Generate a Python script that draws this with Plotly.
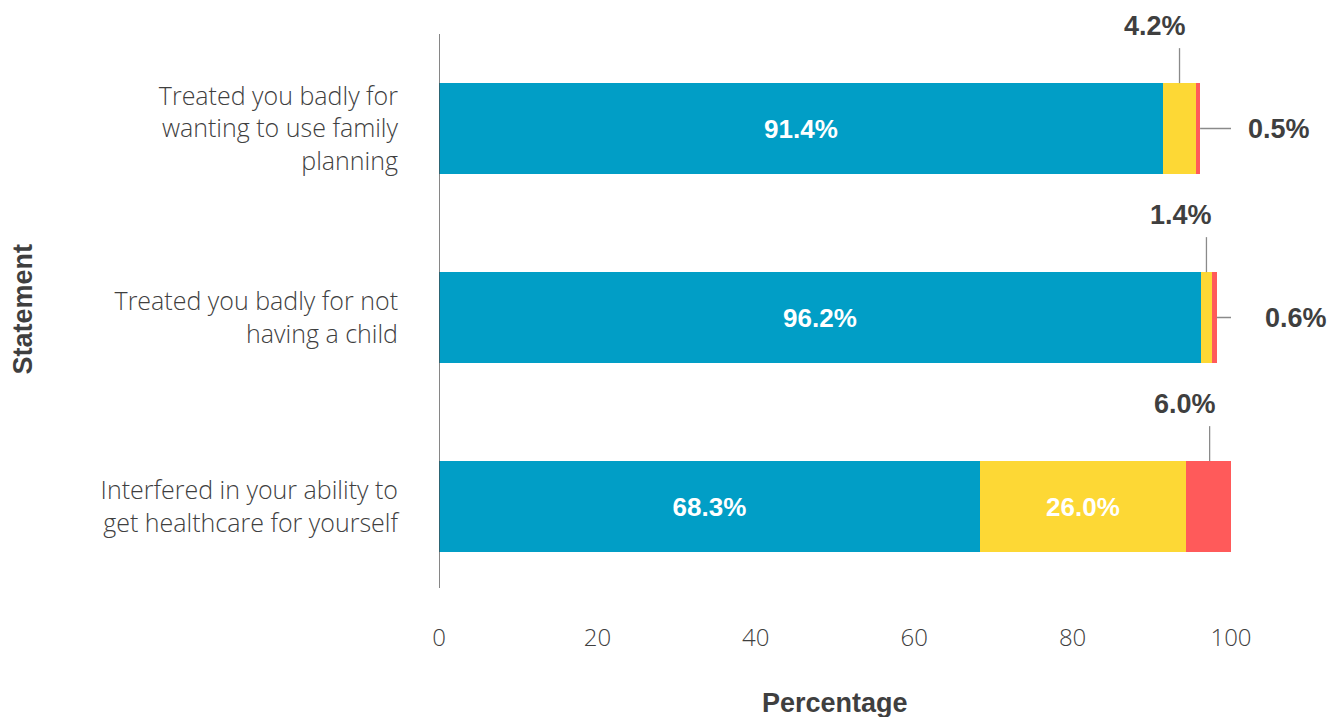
import plotly.graph_objects as go

# Survey statements, listed top to bottom
statements = [
    "Treated you badly for<br>wanting to use family<br>planning",
    "Treated you badly for not<br>having a child",
    "Interfered in your ability to<br>get healthcare for yourself",
]
# Share of responses per answer, in percent
never = [91.4, 96.2, 68.3]
sometimes = [4.2, 1.4, 26.0]
often = [0.5, 0.6, 6.0]

x_ticks = [0, 20, 40, 60, 80, 100]

BLUE = "#019EC6"
YELLOW = "#FDD835"
RED = "#FF5A5A"
DARK = "#3F3F3F"
LEADER = "#8A8A8A"
LIGHT_FONT = "Open Sans"
BOLD_FONT = "Liberation Sans"


def inside_label(values, threshold=10):
    return [f"{v:.1f}%" if v >= threshold else "" for v in values]


fig = go.Figure()
for name, vals, color in [("Never", never, BLUE),
                          ("Sometimes", sometimes, YELLOW),
                          ("Often", often, RED)]:
    fig.add_trace(go.Bar(
        y=statements, x=vals, orientation="h", name=name,
        marker=dict(color=color, line=dict(width=0)),
        width=0.48,
        text=inside_label(vals), textposition="inside",
        insidetextanchor="middle", textangle=0, constraintext="none",
        textfont=dict(family=BOLD_FONT, size=26, color="white", weight="bold"),
        hoverinfo="skip",
    ))

shapes = []
annotations = []
half = 0.24  # half of the bar thickness in category units
label_font = dict(family=BOLD_FONT, size=27, color=DARK, weight="bold")

for i, cat in enumerate(statements):
    small_top = []  # segments labelled above the bar
    small_right = []  # segments labelled to the right
    if sometimes[i] < 10:
        small_top.append((never[i] + sometimes[i] / 2, sometimes[i]))
    if often[i] < 10:
        end = never[i] + sometimes[i] + often[i]
        if often[i] < 1:
            small_right.append((end, often[i]))
        else:
            small_top.append((never[i] + sometimes[i] + often[i] / 2, often[i]))

    for xc, v in small_top:
        shapes.append(dict(
            type="line", xref="x", yref="y", ysizemode="pixel",
            yanchor=i - half, x0=xc, x1=xc, y0=0, y1=35,
            line=dict(color=LEADER, width=1.3),
        ))
        annotations.append(dict(
            x=xc, y=i - half, xref="x", yref="y", text=f"{v:.1f}%",
            showarrow=False, xanchor="right", yanchor="middle",
            xshift=8, yshift=57, font=label_font,
        ))
    for xe, v in small_right:
        shapes.append(dict(
            type="line", xref="x", yref="y", xsizemode="pixel",
            xanchor=xe, x0=0, x1=34, y0=i, y1=i,
            line=dict(color=LEADER, width=1.3),
        ))
        annotations.append(dict(
            x=xe, y=i, xref="x", yref="y", text=f"{v:.1f}%",
            showarrow=False, xanchor="left", yanchor="middle",
            xshift=46, font=label_font,
        ))

# Vertical axis line
shapes.append(dict(
    type="line", xref="x", yref="paper", x0=0, x1=0, y0=0.023, y1=1.0,
    line=dict(color="#444444", width=1.3),
))

# Axis titles
annotations.append(dict(
    x=0.5, y=0, xref="paper", yref="paper", text="<b>Percentage</b>",
    showarrow=False, xanchor="center", yanchor="middle", yshift=-102,
    font=dict(family=BOLD_FONT, size=27, color=DARK),
))
annotations.append(dict(
    x=0, y=0.5, xref="paper", yref="paper", text="<b>Statement</b>",
    showarrow=False, xanchor="center", yanchor="middle",
    xshift=-417, yshift=8, textangle=-90,
    font=dict(family=BOLD_FONT, size=27, color=DARK),
))

fig.update_layout(
    barmode="stack",
    width=1329, height=717,
    margin=dict(l=439, r=98, t=34, b=116),
    paper_bgcolor="white", plot_bgcolor="white",
    showlegend=False,
    shapes=shapes,
    annotations=annotations,
    font=dict(family=LIGHT_FONT, color=DARK),
    xaxis=dict(
        range=[0, 100], tickvals=x_ticks, ticktext=[str(t) for t in x_ticks],
        showgrid=False, zeroline=False, showline=False, ticks="",
        tickfont=dict(family=LIGHT_FONT, size=24, color=DARK, weight=300),
        ticklabelstandoff=20,
    ),
    yaxis=dict(
        autorange="reversed", showgrid=False, zeroline=False, showline=False,
        ticks="", ticklabelstandoff=40,
        tickfont=dict(family=LIGHT_FONT, size=25, color=DARK, weight=300),
    ),
)

fig.write_html("out.html")
